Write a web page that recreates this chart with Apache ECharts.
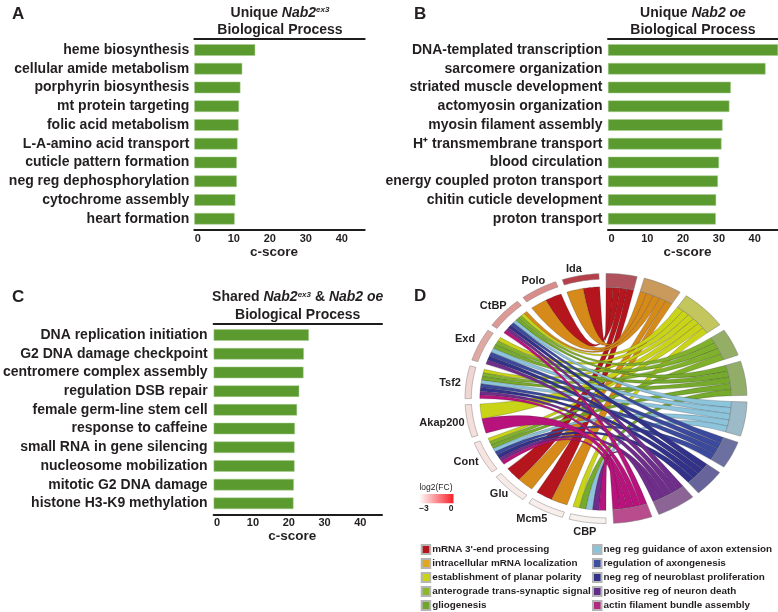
<!DOCTYPE html>
<html><head><meta charset="utf-8">
<style>html,body{margin:0;padding:0;background:#fff}#c{width:778px;height:612px}</style>
<script src="https://cdn.jsdelivr.net/npm/echarts@6/dist/echarts.min.js"></script>
</head><body><div id="c"></div>
<script>
const catsA=['heme biosynthesis','cellular amide metabolism','porphyrin biosynthesis','mt protein targeting','folic acid metabolism','L-A-amino acid transport','cuticle pattern formation','neg reg dephosphorylation','cytochrome assembly','heart formation'];
const valsA=[16.9,13.3,12.8,12.4,12.3,12.0,11.8,11.8,11.4,11.2];
const catsB=['DNA-templated transcription','sarcomere organization','striated muscle development','actomyosin organization','myosin filament assembly','H⁺ transmembrane transport','blood circulation','energy coupled proton transport','chitin cuticle development','proton transport'];
const valsB=[47.5,44.0,34.3,33.9,32.0,31.7,31.0,30.7,30.2,30.1];
const catsC=['DNA replication initiation','G2 DNA damage checkpoint','centromere complex assembly','regulation DSB repair','female germ-line stem cell','response to caffeine','small RNA in gene silencing','nucleosome mobilization','mitotic G2 DNA damage','histone H3-K9 methylation'];
const valsC=[26.6,25.2,25.1,23.9,23.3,22.7,22.6,22.6,22.4,22.3];
const tickLabels=[0,10,20,30,40];

const genes=['Ida','Polo','CtBP','Exd','Tsf2','Akap200','Cont','Glu','Mcm5','CBP'];
const geneColors=['#b54049','#d98d8b','#dc9a96','#e0a8a2','#f0d6d2','#f4dfdb','#f6e4e0','#f7ebe8','#f8efec','#f8f2ef'];
const terms=["mRNA 3'-end processing",'intracellular mRNA localization','establishment of planar polarity','anterograde trans-synaptic signal','gliogenesis','neg reg guidance of axon extension','regulation of axongenesis','neg reg of neuroblast proliferation','positive reg of neuron death','actin filament bundle assembly'];
const termColors=['#b5161e','#d68a1a','#c9d318','#7fb22a','#75aa2c','#8cc4dc','#3b4a9c','#32328a','#6f2d8c','#b8127c'];
const legendColors=['#b5161e','#e0a81c','#c9d318','#8db82b','#6fa52c','#8cc4dc','#3f4f9f','#32328a','#5f2d8c','#b02a80'];
const termRingColors=['#b0525c','#c99a5c','#c2c65c','#94ae66','#92ad68','#9cbac8','#6c70a0','#66649a','#8c6496','#b84c8c'];
// memberships: term index -> gene indices
const links=[
 [0,1,7,8],
 [0,1,2,7,8],
 [2,3,4,5,6,9],
 [2,3,4,6],
 [2,3,4,6,9],
 [2,3,4,6,9],
 [2,3,4,6],
 [2,3,4,6],
 [2,3,4,6,9],
 [2,4,5,6,9]
];

// layout constants of the ring
const GENE_START=2.9,GENE_W=15.19,GENE_GAP=2.8,TERM_UNIT=3.19,TERM_GAP=3;
const R_OUT=1,R_GENE_IN=0.955,R_RIB_G=0.895,R_RIB_T=0.89;
const labelA=[12.4,28.8,47.2,64.5,83.6,99.6,117.1,135.2,151.4,172];
const labelR=[1.06,1.07,1.09,1.107,1.113,1.18,1.115,1.077,1.098,1.078];
const geneTerms=genes.map((g,i)=>links.map((l,t)=>l.includes(i)?t:-1).filter(t=>t>=0));
let tStart=[],acc=0;
links.forEach((l,t)=>{tStart[t]=acc;acc+=l.length*TERM_UNIT+TERM_GAP;});
const rad=d=>d*Math.PI/180;
const P=(api,deg,r)=>api.coord([r*Math.sin(rad(deg)),r*Math.cos(rad(deg))]);
const f=p=>p[0].toFixed(2)+' '+p[1].toFixed(2);
function sectorPath(api,a,b,r0,r1){
  const n=Math.max(3,Math.ceil(Math.abs(b-a)/1.5));let d='';
  for(let i=0;i<=n;i++){d+=(i?'L':'M')+f(P(api,a+(b-a)*i/n,r1));}
  for(let i=n;i>=0;i--){d+='L'+f(P(api,a+(b-a)*i/n,r0));}
  return d+'Z';
}
function arcTo(api,a,b,r){
  const n=Math.max(2,Math.ceil(Math.abs(b-a)/1));let d='';
  for(let i=1;i<=n;i++)d+='L'+f(P(api,a+(b-a)*i/n,r));
  return d;
}
function ribbonRender(t){
  return function(params,api){
    const g=api.value(0),k=api.value(1);
    const gs=GENE_START+g*(GENE_W+GENE_GAP);
    const list=geneTerms[g],w=GENE_W/list.length,pos=list.indexOf(t);
    const a0=-(gs+pos*w),a1=-(gs+(pos+1)*w);
    const t0=tStart[t]+k*TERM_UNIT,t1=t0+TERM_UNIT;
    const C=api.coord([0,0]);
    const d='M'+f(P(api,a0,R_RIB_G))+'Q'+f(C)+' '+f(P(api,t0,R_RIB_T))+arcTo(api,t0,t1,R_RIB_T)
      +'Q'+f(C)+' '+f(P(api,a1,R_RIB_G))+arcTo(api,a1,a0,R_RIB_G)+'Z';
    return {type:'path',shape:{pathData:d},style:{fill:termColors[t],stroke:'rgba(35,30,30,0.6)',lineWidth:0.35}};
  };
}
const ribbonSeries=terms.map((name,t)=>({
  type:'custom',name,xAxisIndex:6,yAxisIndex:3,coordinateSystem:'cartesian2d',clip:false,silent:true,
  itemStyle:{color:legendColors[t],borderColor:'#b5b5b5',borderWidth:0.8},
  renderItem:ribbonRender(t),
  dimensions:['gene','slot'],encode:{x:[],y:[]},
  data:links[t].map((g,k)=>[g,k])
}));
const termRingSeries={type:'custom',xAxisIndex:6,yAxisIndex:3,clip:false,silent:true,encode:{x:[],y:[]},
  data:terms.map((n,t)=>[t]),
  renderItem(p,api){const t=api.value(0),a=tStart[t],b=a+links[t].length*TERM_UNIT;
    return {type:'path',shape:{pathData:sectorPath(api,a,b,R_RIB_T,R_OUT)},style:{fill:termRingColors[t],stroke:'#777',lineWidth:0.5}};}
};
const geneRingSeries={type:'custom',xAxisIndex:6,yAxisIndex:3,clip:false,silent:true,encode:{x:[],y:[]},
  data:genes.map((n,g)=>[g]),
  renderItem(p,api){const g=api.value(0),s=GENE_START+g*(GENE_W+GENE_GAP);
    const lp=P(api,-labelA[g],labelR[g]);
    return {type:'group',children:[
      {type:'path',shape:{pathData:sectorPath(api,-s,-(s+GENE_W),R_GENE_IN,R_OUT)},style:{fill:geneColors[g],stroke:'#8a8080',lineWidth:0.5}},
      {type:'text',x:lp[0],y:lp[1],style:{text:genes[g],fill:TXT,font:'bold 11px "Liberation Sans"',textAlign:'center',textVerticalAlign:'middle'}}
    ]};}
};
const TXT='#231f20',FF='"Liberation Sans"';
const BAR='#5a9a2f';
const panels=[
 {c:catsA,v:valsA,left:194.3,width:170.4,max:47.31,top:40.6,h:187.5,lm:5,off:2},
 {c:catsB,v:valsB,left:608,width:170,max:47.48,top:40.6,h:187.5,lm:5.5,off:2},
 {c:catsC,v:valsC,left:212.7,width:169.3,max:47.03,top:325.7,h:187,lm:6,off:2}
];
const grid=panels.map(p=>({left:p.left,width:p.width,top:p.top,height:p.h}));
grid.push({left:465,width:282,top:273.5,height:250});
const xAxis=[],yAxis=[],series=[];
panels.forEach((p,i)=>{
  xAxis.push({type:'value',gridIndex:i,position:'bottom',min:0,max:p.max,offset:p.off,
    name:'c-score',nameLocation:'middle',nameGap:14,nameTextStyle:{color:TXT,fontFamily:FF,fontWeight:'bold',fontSize:13.5,padding:[0,11,0,0]},
    splitLine:{show:false},axisTick:{show:false},axisLine:{show:true,onZero:false,lineStyle:{color:'#1d1d1b',width:2}},
    axisLabel:{customValues:tickLabels,color:TXT,fontFamily:FF,fontWeight:'bold',fontSize:11,margin:3,padding:[0,0,0,7]}});
  xAxis.push({type:'value',gridIndex:i,position:'top',min:0,max:p.max,offset:p.off,show:true,
    splitLine:{show:false},axisTick:{show:false},axisLabel:{show:false},axisLine:{show:true,onZero:false,lineStyle:{color:'#1d1d1b',width:2}}});
  yAxis.push({type:'category',gridIndex:i,inverse:true,data:p.c,axisLine:{show:false},axisTick:{show:false},
    axisLabel:{color:TXT,fontFamily:FF,fontWeight:'bold',fontSize:14,margin:p.lm,interval:0}});
  series.push({type:'bar',xAxisIndex:i*2,yAxisIndex:i,data:p.v,barWidth:11.5,silent:true,
    itemStyle:{color:BAR,borderColor:'#a8cc90',borderWidth:0.5}});
});
xAxis.push({type:'value',gridIndex:3,min:-1,max:1,show:false});
yAxis.push({type:'value',gridIndex:3,min:-1,max:1,show:false});
series.push(...ribbonSeries,termRingSeries,geneRingSeries);

const rich={i:{fontStyle:'italic',fontWeight:'bold',fontSize:14,fontFamily:FF,color:TXT},
  sup:{fontStyle:'italic',fontWeight:'bold',fontSize:8,fontFamily:FF,color:TXT,verticalAlign:'top',lineHeight:14},
  b:{fontWeight:'bold',fontSize:14,fontFamily:FF,color:TXT}};
const tt=(text,left,top)=>({text,left,top,textAlign:'center',textVerticalAlign:'top',padding:0,
  textStyle:{fontFamily:FF,fontWeight:'bold',fontSize:14,color:TXT,rich}});
const title=[
 tt('{b|Unique }{i|Nab2}{sup|ex3}',280,6),tt('Biological Process',280,23),
 tt('{b|Unique }{i|Nab2 oe}',693,6),tt('Biological Process',693,23),
 tt('{b|Shared }{i|Nab2}{sup|ex3}{b| & }{i|Nab2 oe}',297.7,290.5),tt('Biological Process',297.7,308)
];
const letter=(t,x,y)=>({type:'text',x,y,style:{text:t,fill:TXT,font:'bold 17px "Liberation Sans"',textAlign:'left',textVerticalAlign:'middle'}});
const graphic=[
 letter('A',12,14),letter('B',414,14),letter('C',12,297),letter('D',414,296),
 {type:'rect',x:419,y:494,shape:{width:34.5,height:9.3},style:{fill:new echarts.graphic.LinearGradient(0,0,1,0,[{offset:0,color:'#ffffff'},{offset:1,color:'#f82028'}])}},
 {type:'text',x:436,y:487.7,style:{text:'log2(FC)',fill:TXT,font:'8.5px "Liberation Sans"',textAlign:'center',textVerticalAlign:'middle'}},
 {type:'text',x:424,y:508.7,style:{text:'−3',fill:TXT,font:'bold 8.5px "Liberation Sans"',textAlign:'center',textVerticalAlign:'middle'}},
 {type:'text',x:451,y:508.7,style:{text:'0',fill:TXT,font:'bold 8.5px "Liberation Sans"',textAlign:'center',textVerticalAlign:'middle'}}
];
const lg=(data,left)=>({data,left,top:544,height:200,width:190,orient:'vertical',icon:'rect',itemWidth:8.5,itemHeight:9,itemGap:3,padding:0,selectedMode:false,
  textStyle:{color:TXT,fontFamily:FF,fontWeight:'bold',fontSize:9.9,lineHeight:10,padding:[0,0,0,-3]}});
const legend=[lg(terms.slice(0,5),420.7),lg(terms.slice(5),592)];
const chart=echarts.init(document.getElementById('c'),null,{renderer:'canvas'});
chart.setOption({animation:false,backgroundColor:'#fff',title,grid,xAxis,yAxis,series,graphic,legend,tooltip:{show:false}});
</script></body></html>
